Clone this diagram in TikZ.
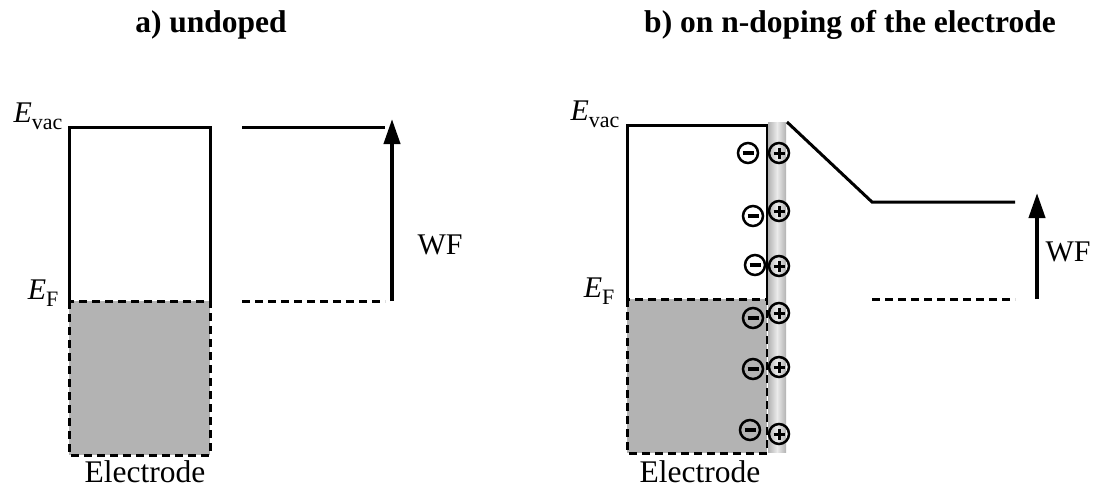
\documentclass[tikz,border=0pt]{standalone}
\usepackage{fontspec}
\setmainfont{Liberation Serif}
\usetikzlibrary{arrows.meta}
\definecolor{fillgray}{RGB}{179,179,179}
\definecolor{stripgray}{RGB}{178,178,178}
\newcommand{\enlevel}[2]{{\itshape #1}\raisebox{-7pt}{\fontsize{22}{22}\selectfont #2}}
\begin{document}
\begin{tikzpicture}[x=1pt,y=-1pt,
    level/.style={line width=3pt},
    fermi/.style={line width=3pt,dash pattern=on 8pt off 5pt},
    wfarrow/.style={line width=4pt,-{Triangle[length=25pt,width=16pt]}},
    title/.style={font=\fontsize{31.5}{38}\selectfont\bfseries,anchor=base},
    txt/.style={font=\fontsize{30}{36}\selectfont},
    charge/.style={circle,draw,line width=2.5pt,minimum size=20pt,inner sep=0pt},
    minus/.style={charge,path picture={
      \draw[line width=3.5pt] ([xshift=-5.5pt]path picture bounding box.center)
        -- ([xshift=5.5pt]path picture bounding box.center);}},
    plus/.style={charge,path picture={
      \draw[line width=3pt] ([xshift=-5.5pt]path picture bounding box.center)
        -- ([xshift=5.5pt]path picture bounding box.center);
      \draw[line width=3pt] ([yshift=-5.5pt]path picture bounding box.center)
        -- ([yshift=5.5pt]path picture bounding box.center);}}]
  \useasboundingbox (0,0) rectangle (1094,487);

  % titles
  \node[title] (ta) at (211,33) {a) undoped};
  \node[title] (tb) at (850,33) {b) on n-doping of the electrode};

  % a) undoped
  \fill[fillgray] (69,301) rectangle (210,455);
  \draw[fermi] (69,301) rectangle (210,455);
  \draw[level] (69,301) -- (69,127) -- (210,127) -- (210,301);
  \draw[level] (242,127) -- (385,127);
  \draw[fermi] (242,301) -- (385,301);
  \coordinate (wfa0) at (392,301);
  \coordinate (wfa1) at (392,119);
  \draw[wfarrow] (wfa0) -- (wfa1);
  \node[txt] (wfa) at (440,245) {WF};
  \node[txt,anchor=base east] (eva) at (66,122) {\enlevel{E}{vac}};
  \node[txt,anchor=base east] (efa) at (62,299) {\enlevel{E}{F}};
  \node[txt,font=\fontsize{31.5}{38}\selectfont,anchor=base] (ela) at (145,482) {Electrode};

  % b) n-doped electrode
  \fill[fillgray] (627,299) rectangle (767,453);
  \draw[fermi] (627,299) rectangle (767,453);
  \draw[level] (627,299) -- (627,125) -- (767,125) -- (767,299);
  \shade[left color=stripgray,right color=stripgray,middle color=white!92!black]
    (768,122) rectangle (786,452);
  \draw[level] (787,122) -- (872,202) -- (1015,202);
  \draw[fermi] (872,299) -- (1015,299);
  \coordinate (wfb0) at (1037,299);
  \coordinate (wfb1) at (1037,193);
  \draw[wfarrow] (wfb0) -- (wfb1);
  \node[txt] (wfb) at (1068,252) {WF};
  \node[txt,anchor=base east] (evb) at (623,120) {\enlevel{E}{vac}};
  \node[txt,anchor=base east] (efb) at (618,297) {\enlevel{E}{F}};
  \node[txt,font=\fontsize{31.5}{38}\selectfont,anchor=base] (elb) at (700,482) {Electrode};

  % charges at the interface
  \foreach \xm/\ym/\yp [count=\i] in {748/153/153, 753/216/211, 755/265/266,
      753/318/313, 753/369/367, 750/430/434} {
    \node[minus] (m\i) at (\xm,\ym) {};
    \node[plus] (p\i) at (779,\yp) {};
  }
\end{tikzpicture}
\end{document}
